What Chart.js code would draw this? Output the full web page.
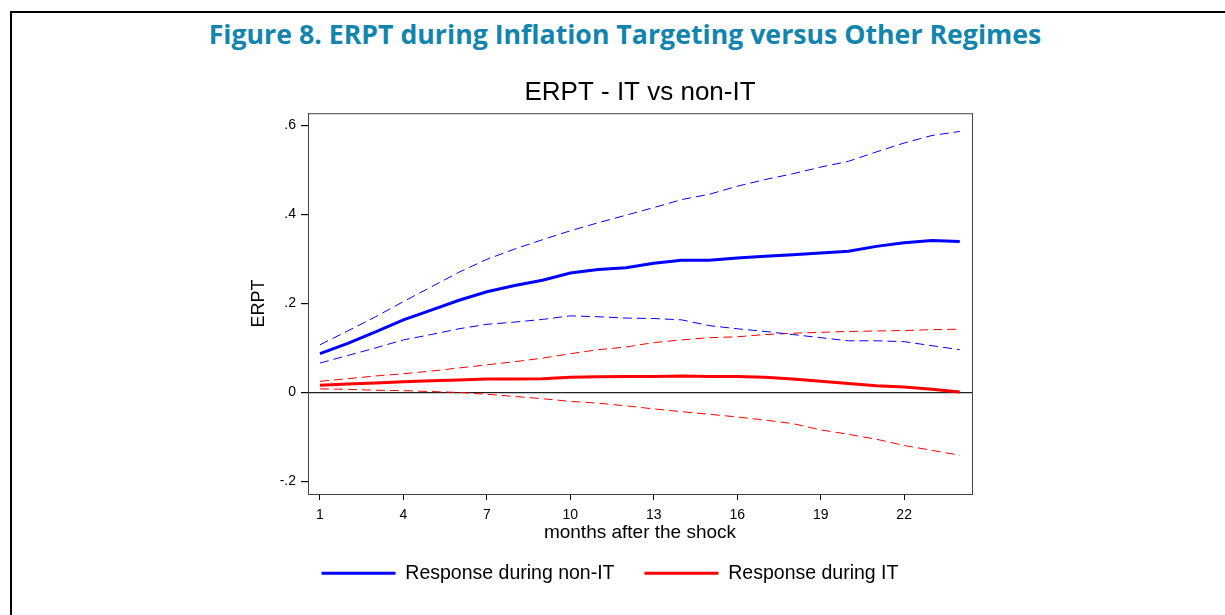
<!DOCTYPE html>
<html>
<head>
  <meta charset="UTF-8">
  <title>ERPT - IT vs non-IT</title>
  <script src="https://cdn.jsdelivr.net/npm/chart.js"></script>
  <style>
    body {
      margin: 0;
      background: #fff;
      font-family: "Liberation Sans", Arial, sans-serif;
    }
    #frame {
      position: absolute;
      left: 10px;
      top: 11px;
      width: 1300px;
      height: 700px;
      border-left: 2px solid #000;
      border-top: 2px solid #000;
    }
    #figTitle {
      position: absolute;
      left: 0;
      width: 1250px;
      top: 15px;
      text-align: center;
      font-family: "Open Sans", sans-serif;
      font-weight: bold;
      font-size: 26.7px;
      color: #1284ad;
      white-space: nowrap;
    }
    #wrap {
      position: absolute;
      left: 0;
      top: 0;
      width: 1225px;
      height: 615px;
    }
  </style>
</head>
<body>
  <div id="frame"></div>
  <div id="figTitle">Figure 8. ERPT during Inflation Targeting versus Other Regimes</div>

  <div id="wrap">
    <canvas id="erptChart"></canvas>
  </div>

  <script>
    const months = [];
    for (let m = 1; m <= 24; m++) {
      months.push(m);
    }

    // responses
    const nonItResp  = [0.087, 0.110, 0.136, 0.163, 0.185, 0.207, 0.226, 0.240, 0.252, 0.268, 0.276, 0.280,
                        0.290, 0.297, 0.297, 0.302, 0.306, 0.309, 0.313, 0.317, 0.328, 0.336, 0.341, 0.339];
    const nonItUpper = [0.107, 0.138, 0.170, 0.204, 0.237, 0.270, 0.299, 0.322, 0.343, 0.363, 0.381, 0.398,
                        0.415, 0.433, 0.445, 0.463, 0.478, 0.491, 0.506, 0.519, 0.540, 0.560, 0.577, 0.586];
    const nonItLower = [0.066, 0.083, 0.100, 0.118, 0.130, 0.143, 0.153, 0.158, 0.164, 0.172, 0.170, 0.167,
                        0.166, 0.163, 0.150, 0.143, 0.137, 0.130, 0.123, 0.116, 0.116, 0.114, 0.105, 0.096];
    const itResp     = [0.016, 0.019, 0.021, 0.024, 0.026, 0.028, 0.030, 0.030, 0.031, 0.034, 0.035, 0.036,
                        0.036, 0.037, 0.036, 0.036, 0.034, 0.030, 0.025, 0.020, 0.015, 0.012, 0.007, 0.001];
    const itUpper    = [0.025, 0.031, 0.037, 0.042, 0.048, 0.055, 0.062, 0.069, 0.077, 0.087, 0.096, 0.102,
                        0.112, 0.118, 0.123, 0.125, 0.130, 0.133, 0.135, 0.137, 0.138, 0.139, 0.141, 0.142];
    const itLower    = [0.008, 0.007, 0.005, 0.004, 0.002, 0.000, -0.004, -0.009, -0.014, -0.020, -0.024, -0.030,
                        -0.037, -0.043, -0.049, -0.055, -0.062, -0.070, -0.084, -0.094, -0.105, -0.119, -0.130, -0.141];

    const xTicks = [1, 4, 7, 10, 13, 16, 19, 22];
    const yTicks = [-0.2, 0, 0.2, 0.4, 0.6];

    const BLUE = '#0000ff';
    const RED = '#ff0000';

    function pts(vals) {
      return vals.map((v, i) => ({ x: months[i], y: v }));
    }

    const frameBox = {
      id: 'frameBox',
      afterDraw(chart) {
        const a = chart.chartArea;
        const ctx = chart.ctx;
        ctx.save();
        ctx.strokeStyle = '#444';
        ctx.lineWidth = 1;
        ctx.strokeRect(a.left + 0.5, a.top + 0.5, a.right - a.left, a.bottom - a.top);
        ctx.restore();
      }
    };

    new Chart(document.getElementById('erptChart'), {
      type: 'line',
      data: {
        datasets: [
          { label: 'Response during non-IT', data: pts(nonItResp), borderColor: BLUE, backgroundColor: BLUE, borderWidth: 3 },
          { label: 'upper non-IT', data: pts(nonItUpper), borderColor: BLUE, borderWidth: 1, borderDash: [9, 5] },
          { label: 'lower non-IT', data: pts(nonItLower), borderColor: BLUE, borderWidth: 1, borderDash: [9, 5] },
          { label: 'Response during IT', data: pts(itResp), borderColor: RED, backgroundColor: RED, borderWidth: 3 },
          { label: 'upper IT', data: pts(itUpper), borderColor: RED, borderWidth: 1, borderDash: [9, 5] },
          { label: 'lower IT', data: pts(itLower), borderColor: RED, borderWidth: 1, borderDash: [9, 5] }
        ]
      },
      options: {
        responsive: true,
        maintainAspectRatio: false,
        animation: false,
        elements: {
          point: { radius: 0 },
          line: { tension: 0, fill: false }
        },
        layout: {
          padding: { left: 248, right: 253, top: 77, bottom: 22 }
        },
        plugins: {
          title: {
            display: true,
            text: 'ERPT - IT vs non-IT',
            fullSize: false,
            color: '#000',
            font: { family: 'Liberation Sans', size: 26, weight: 'normal' },
            padding: { top: 0, bottom: 5 }
          },
          legend: {
            position: 'bottom',
            labels: {
              filter: item => item.datasetIndex === 0 || item.datasetIndex === 3,
              usePointStyle: true,
              pointStyle: 'line',
              pointStyleWidth: 74,
              padding: 30,
              color: '#000',
              font: { family: 'Liberation Sans', size: 19.5 }
            }
          },
          tooltip: { enabled: false }
        },
        scales: {
          x: {
            type: 'linear',
            min: 0.57,
            max: 24.44,
            afterBuildTicks: s => { s.ticks = xTicks.map(v => ({ value: v })); },
            afterFit: s => { s.height = 39.5; },
            ticks: {
              color: '#000',
              padding: 7,
              maxRotation: 0,
              font: { family: 'Liberation Sans', size: 14 }
            },
            grid: { drawOnChartArea: false, tickLength: 6, tickColor: '#000' },
            border: { color: '#000' },
            title: {
              display: true,
              text: 'months after the shock',
              color: '#000',
              font: { family: 'Liberation Sans', size: 19 },
              padding: { top: 0, bottom: -11 }
            }
          },
          y: {
            min: -0.228,
            max: 0.627,
            afterBuildTicks: s => { s.ticks = yTicks.map(v => ({ value: v })); },
            afterFit: s => { s.width = 60; },
            ticks: {
              color: '#000',
              padding: 5,
              font: { family: 'Liberation Sans', size: 14 },
              callback: v => v === 0 ? '0' : v.toFixed(1).replace('0.', '.')
            },
            grid: {
              drawOnChartArea: true,
              tickLength: 7,
              tickColor: '#000',
              color: c => c.tick && c.tick.value === 0 ? '#222' : 'rgba(0,0,0,0)',
              lineWidth: 1.2
            },
            border: { color: '#000' },
            title: {
              display: true,
              text: 'ERPT',
              color: '#000',
              font: { family: 'Liberation Sans', size: 18 },
              padding: { top: 0, bottom: 0 }
            }
          }
        }
      },
      plugins: [frameBox]
    });
  </script>
</body>
</html>
